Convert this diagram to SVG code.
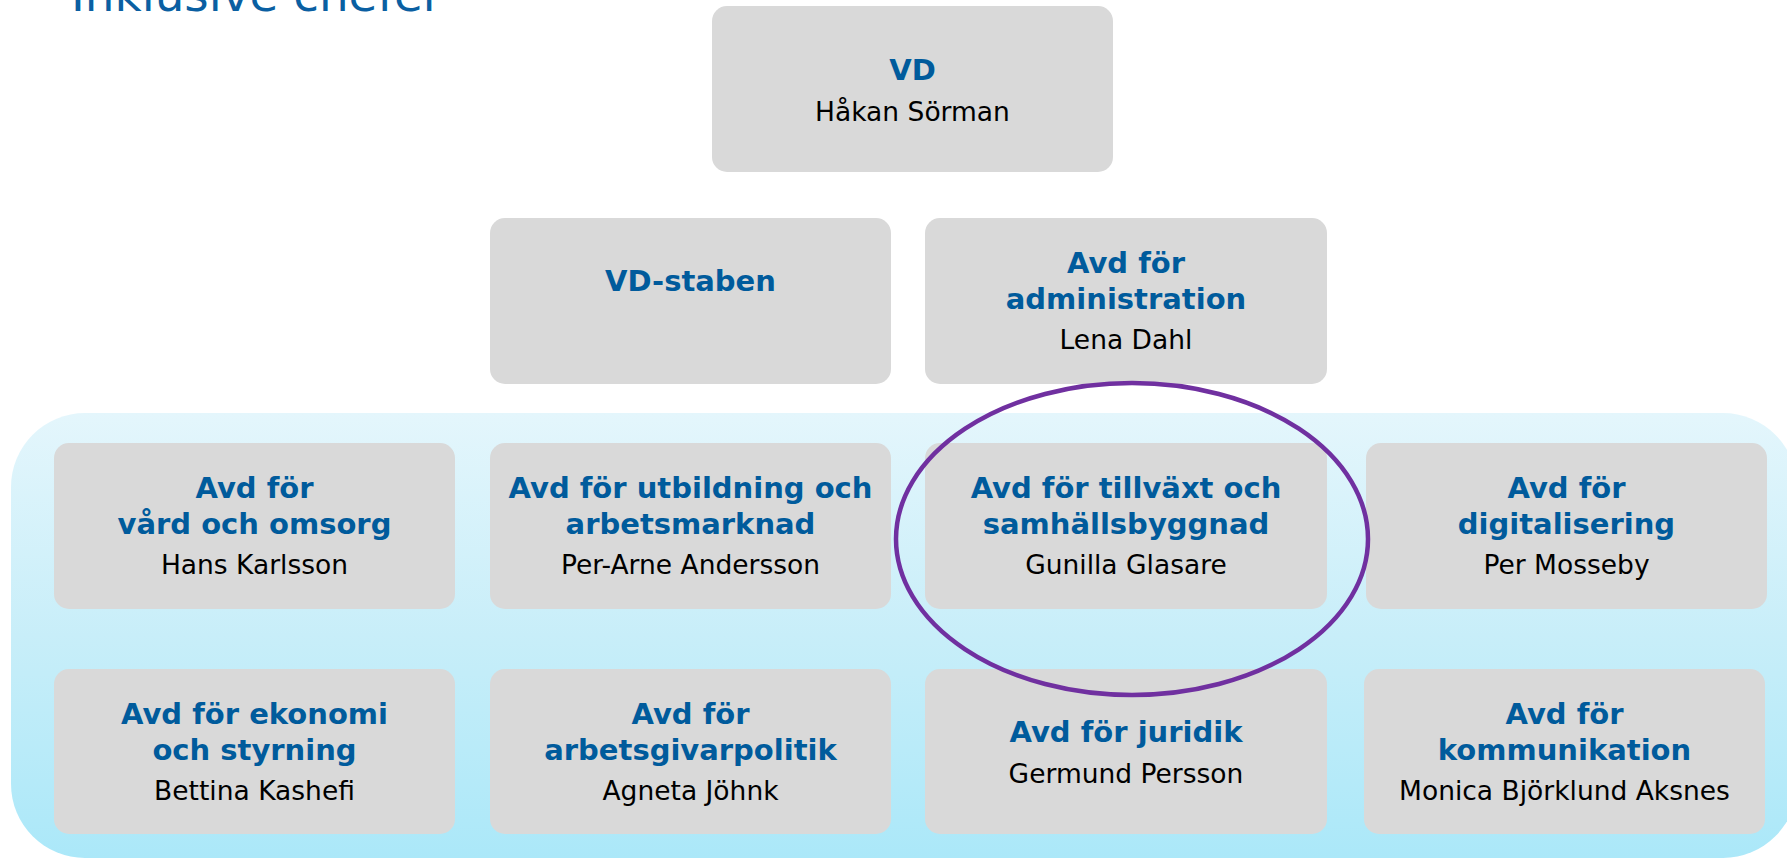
<svg xmlns="http://www.w3.org/2000/svg" width="1787" height="859" viewBox="0 0 1787 859">
<defs>
<linearGradient id="panelGrad" x1="0" y1="0" x2="0" y2="1">
<stop offset="0" stop-color="#e4f6fc"/>
<stop offset="0.5" stop-color="#c8eef9"/>
<stop offset="1" stop-color="#abe8f9"/>
</linearGradient>
<style>
.box{fill:#d9d9d9;}
.t{font-family:"DejaVu Sans","Verdana",sans-serif;text-anchor:middle;}
.b{font-weight:bold;font-size:29px;fill:#005b9c;}
.n{font-size:26.5px;fill:#000000;}
.title{font-family:"DejaVu Sans","Verdana",sans-serif;font-size:47px;fill:#0a5fa2;}
</style>
</defs>
<rect width="1787" height="859" fill="#ffffff"/>
<text class="title" x="71" y="11" textLength="371" lengthAdjust="spacingAndGlyphs">Inklusive chefer</text>
<rect id="panel" x="11" y="413" width="1786" height="445" rx="74" ry="74" fill="url(#panelGrad)"/>

<g id="vd">
<rect class="box" x="712" y="6" width="401" height="166" rx="15"/>
<text class="t b" x="912.5" y="80">VD</text>
<text class="t n" x="912.5" y="121">Håkan Sörman</text>
</g>

<g id="vd-staben">
<rect class="box" x="490" y="218" width="401" height="166" rx="15"/>
<text class="t b" x="690.5" y="291">VD-staben</text>
</g>

<g id="administration">
<rect class="box" x="925" y="218" width="402" height="166" rx="15"/>
<text class="t b" x="1126" y="273">Avd för</text>
<text class="t b" x="1126" y="309">administration</text>
<text class="t n" x="1126" y="349">Lena Dahl</text>
</g>

<g id="vard">
<rect class="box" x="54" y="443" width="401" height="166" rx="15"/>
<text class="t b" x="254.5" y="498">Avd för</text>
<text class="t b" x="254.5" y="534">vård och omsorg</text>
<text class="t n" x="254.5" y="574">Hans Karlsson</text>
</g>

<g id="utbildning">
<rect class="box" x="490" y="443" width="401" height="166" rx="15"/>
<text class="t b" x="690.5" y="498">Avd för utbildning och</text>
<text class="t b" x="690.5" y="534">arbetsmarknad</text>
<text class="t n" x="690.5" y="574">Per-Arne Andersson</text>
</g>

<g id="tillvaxt">
<rect class="box" x="925" y="443" width="402" height="166" rx="15"/>
<text class="t b" x="1126" y="498">Avd för tillväxt och</text>
<text class="t b" x="1126" y="534">samhällsbyggnad</text>
<text class="t n" x="1126" y="574">Gunilla Glasare</text>
</g>

<g id="digitalisering">
<rect class="box" x="1366" y="443" width="401" height="166" rx="15"/>
<text class="t b" x="1566.5" y="498">Avd för</text>
<text class="t b" x="1566.5" y="534">digitalisering</text>
<text class="t n" x="1566.5" y="574">Per Mosseby</text>
</g>

<g id="ekonomi">
<rect class="box" x="54" y="669" width="401" height="165" rx="15"/>
<text class="t b" x="254.5" y="724">Avd för ekonomi</text>
<text class="t b" x="254.5" y="760">och styrning</text>
<text class="t n" x="254.5" y="800">Bettina Kashefi</text>
</g>

<g id="arbetsgivarpolitik">
<rect class="box" x="490" y="669" width="401" height="165" rx="15"/>
<text class="t b" x="690.5" y="724">Avd för</text>
<text class="t b" x="690.5" y="760">arbetsgivarpolitik</text>
<text class="t n" x="690.5" y="800">Agneta Jöhnk</text>
</g>

<g id="juridik">
<rect class="box" x="925" y="669" width="402" height="165" rx="15"/>
<text class="t b" x="1126" y="742">Avd för juridik</text>
<text class="t n" x="1126" y="783">Germund Persson</text>
</g>

<g id="kommunikation">
<rect class="box" x="1364" y="669" width="401" height="165" rx="15"/>
<text class="t b" x="1564.5" y="724">Avd för</text>
<text class="t b" x="1564.5" y="760">kommunikation</text>
<text class="t n" x="1564.5" y="800">Monica Björklund Aksnes</text>
</g>

<g id="highlight">
<ellipse cx="1132" cy="539" rx="236" ry="156" fill="none" stroke="#7030a0" stroke-width="4.5"/>
</g>

<g id="connectors"></g>
</svg>
